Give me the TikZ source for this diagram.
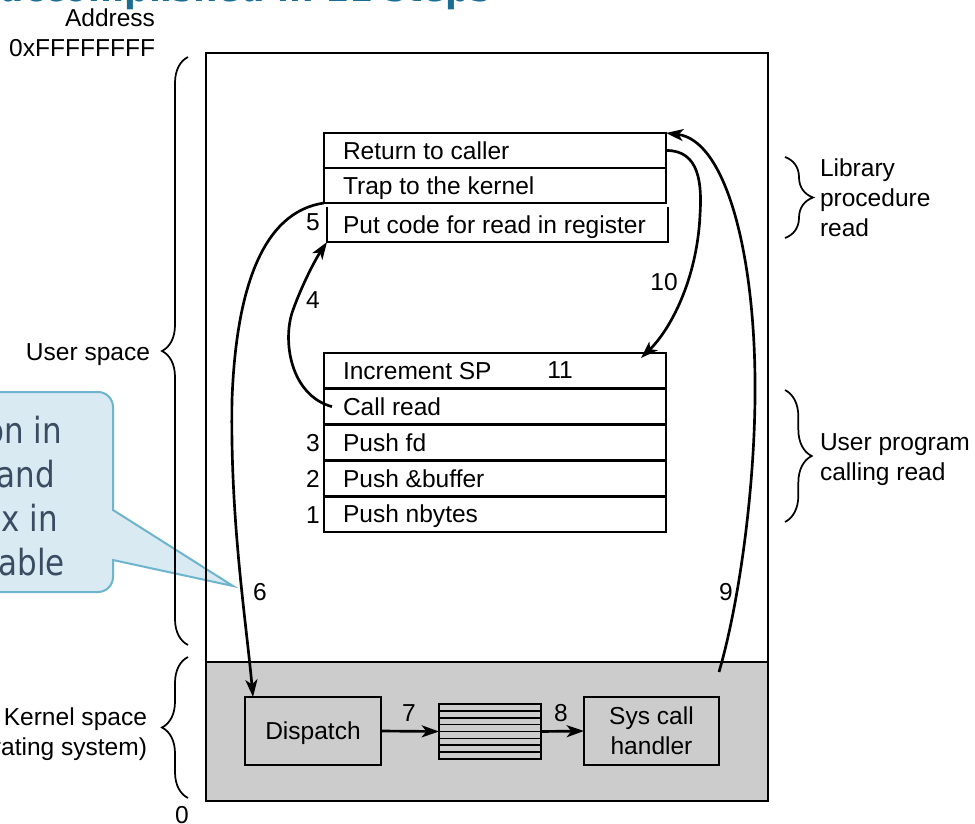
\documentclass[tikz,border=0pt]{standalone}
\usepackage{fontspec}
\setmainfont{Liberation Sans}
\newfontfamily\calloutfont[FakeStretch=0.86]{DejaVu Sans}
\usetikzlibrary{arrows.meta,decorations.pathreplacing,calc}
\definecolor{kernelgray}{HTML}{CCCCCC}
\definecolor{titleteal}{HTML}{1A6D93}
\definecolor{calloutfill}{HTML}{DAEAF2}
\definecolor{calloutedge}{HTML}{6CB5CD}
\definecolor{callouttext}{HTML}{3A4C62}
% left-aligned text of fixed width inside a stack cell
\newcommand\celltext[2][228pt]{\makebox[#1][l]{#2}}
\begin{document}
\begin{tikzpicture}[x=0.75pt, y=-0.75pt,
  every node/.style={font=\fontsize{18.4}{22.5}\selectfont, inner sep=0pt, outer sep=0pt},
  lbl/.style={text height=13.2pt, text depth=0pt},
  cell/.style={draw, line width=2pt, rectangle,
    inner xsep=14.25pt, inner ysep=0pt,
    minimum height=#1, text height=13.2pt, text depth=0pt, anchor=north west},
  kbox/.style={draw, line width=2pt, rectangle, align=center,
    minimum width=#1, minimum height=51pt},
  arr/.style={line width=2pt, -{Stealth[length=13pt, width=9pt, inset=3.5pt]}},
  bracer/.style={line width=1.3pt, decorate, decoration={brace, amplitude=#1}},
  calltxt/.style={font=\calloutfont\fontsize{27}{33}\selectfont, text=callouttext, anchor=base east},
]
\useasboundingbox (0,0) rectangle (975,824);
\fill[white] (0,0) rectangle (975,824);

% slide title (runs off the top edge)
\node[font=\calloutfont\bfseries\fontsize{30}{36}\selectfont, text=titleteal, anchor=base east]
  (title) at (491,1.5) {accomplished in 11 steps};

% callout bubble
\draw[line width=1.5pt, draw=calloutedge, fill=calloutfill]
  (-30,392) -- (98,392) .. controls (106.3,392) and (113,398.7) .. (113,407)
  -- (113,510) -- (233,586) -- (113,560) -- (113,577)
  .. controls (113,585.3) and (106.3,592) .. (98,592) -- (-30,592) -- cycle;
\node[calltxt] (call1) at (62,443) {on in};
\node[calltxt] (call2) at (55,487) {and};
\node[calltxt] (call3) at (58,531) {x in};
\node[calltxt] (call4) at (65,575) {able};

% address space frame with kernel part
\fill[kernelgray] (206,662) rectangle (768,801);
\draw[line width=2pt] (206,662) -- (768,662);
\draw[line width=2.2pt] (206,53) rectangle (768,801);

% address labels
\node[lbl, anchor=east] (addr) at (155,18) {Address};
\node[lbl, anchor=east] (addrtop) at (155,48) {0xFFFFFFFF};
\node[lbl] (addrzero) at (182,815) {0};

% braces on the left
\draw[bracer=19.5pt] (188,645) -- (188,57);
\node[lbl, anchor=east] (userspace) at (150,352) {User space};
\draw[bracer=19.5pt] (188,798) -- (188,657);
\node[anchor=east, align=right] (kernelspace) at (147,734) {Kernel space\\(Operating system)};

% braces on the right
\draw[bracer=21pt] (785,157) -- (785,238);
\node[anchor=west, align=left] (libtxt) at (820,198) {Library\\procedure\\read};
\draw[bracer=20pt] (785,390) -- (785,522);
\node[anchor=west, align=left] (usertxt) at (820,460) {User program\\calling read};

% library procedure read
\node[cell=26.25pt] (ret) at (324,133) {\celltext{Return to caller}};
\node[cell=26.25pt] (trap) at (324,168) {\celltext{Trap to the kernel}};
\node[cell=26.25pt, draw=none, inner xsep=12pt] (put) at (327,207)
  {\celltext[231.75pt]{Put code for read in register}};
\draw[line width=2pt] (put.north west) -- (put.south west) -- (put.south east) -- (put.north east);
\node[lbl] (n5) at (313,222) {5};

% user program calling read
\node[cell=26.85pt] (incr) at (324,353) {\celltext{Increment SP}};
\node[cell=26.85pt] (callread) at (324,388.8) {\celltext{Call read}};
\node[cell=26.85pt] (pushfd) at (324,424.6) {\celltext{Push fd}};
\node[cell=26.85pt] (pushbuf) at (324,460.4) {\celltext{Push \&buffer}};
\node[cell=26.85pt] (pushnb) at (324,496.2) {\celltext{Push nbytes}};
\node[lbl] (n11) at (560,370) {11};
\node[lbl] (n3) at (313,443) {3};
\node[lbl] (n2) at (313,479) {2};
\node[lbl] (n1) at (313,515) {1};

% kernel: dispatch, table, handler
\node[kbox=102pt, lbl] (dispatch) at (313,731) {Dispatch};
\node[draw, line width=1.6pt, minimum width=76.5pt, minimum height=41.25pt] (tbl) at (490,731.5) {};
\foreach \k in {1,...,7}
  \draw[line width=1.3pt] ($(tbl.north west)!\k/8!(tbl.south west)$) -- ($(tbl.north east)!\k/8!(tbl.south east)$);
\node[kbox=101.25pt] (syscall) at (651.5,731) {Sys call\\handler};
\draw[arr] (dispatch.east) -- (tbl.west);
\draw[arr] (tbl.east) -- (syscall.west);
\node[lbl] (n7) at (409,713) {7};
\node[lbl] (n8) at (561,713) {8};

% control flow arrows
\draw[arr] ($(callread.west)+(8,0)$) .. controls (290,395) and (282,340) .. (293,310)
  .. controls (302,285) and (315,260) .. (put.south west);
\node[lbl] (n4) at (313,300) {4};

\draw[arr] (trap.south west) .. controls (262,212) and (236,290) .. (232,400)
  .. controls (230,520) and (246,620) .. ($(dispatch.north west)+(8,0)$);
\node[lbl] (n6) at (260,592) {6};

\coordinate (k9) at (719,672);
\draw[arr] (k9) .. controls (740,600) and (756,480) .. (755,380)
  .. controls (754,250) and (725,140) .. (ret.north east);
\node[lbl] (n9) at (726,592) {9};

\draw[arr] (ret.east) .. controls (700,150) and (702,185) .. (700,215)
  .. controls (697,280) and (670,330) .. ($(incr.north east)+(-25,5)$);
\node[lbl] (n10) at (664,282) {10};
\end{tikzpicture}
\end{document}
